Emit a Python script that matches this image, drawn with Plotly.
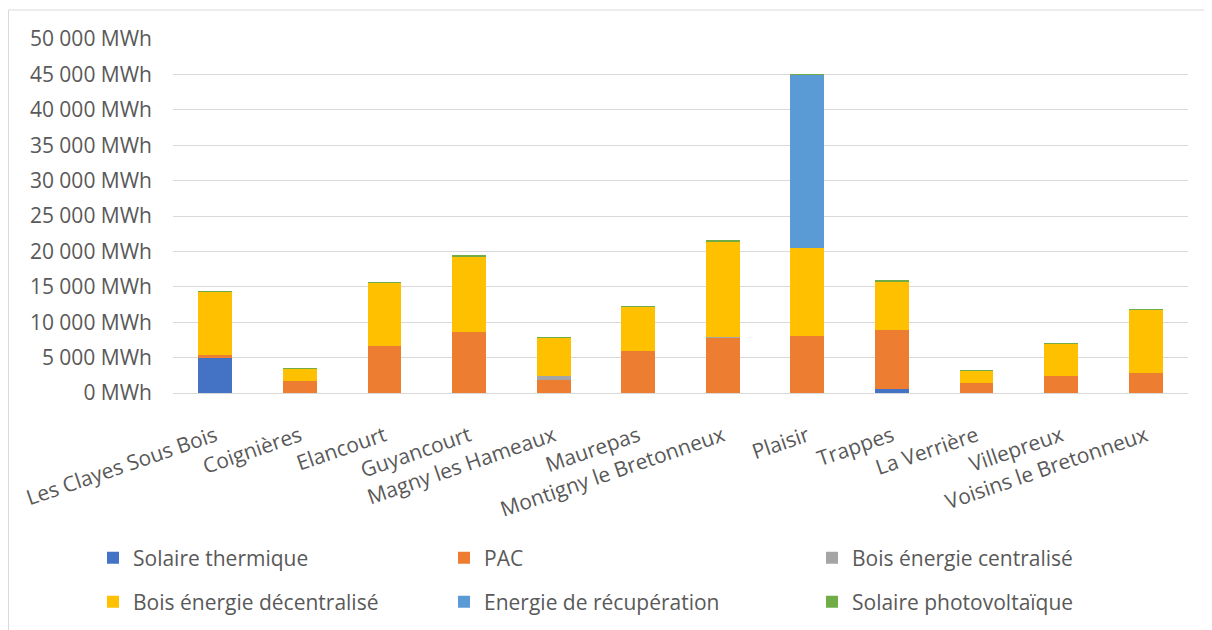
import plotly.graph_objects as go

categories = ["Les Clayes Sous Bois", "Coignières", "Elancourt", "Guyancourt",
              "Magny les Hameaux", "Maurepas", "Montigny le Bretonneux", "Plaisir",
              "Trappes", "La Verrière", "Villepreux", "Voisins le Bretonneux"]

solaire_thermique = [5000, 0, 0, 0, 0, 0, 0, 0, 500, 0, 0, 0]
pac = [400, 1650, 6600, 8650, 1800, 5870, 7850, 8040, 8400, 1420, 2360, 2800]
bois_centralise = [0, 0, 0, 0, 600, 0, 100, 0, 0, 0, 0, 0]
bois_decentralise = [8900, 1750, 8950, 10560, 5400, 6300, 13450, 12500, 6870, 1780, 4640, 9000]
energie_recuperation = [0, 0, 0, 0, 0, 0, 0, 24400, 0, 0, 0, 0]
solaire_pv = [100, 50, 60, 230, 50, 80, 100, 100, 50, 30, 50, 60]

series_names = ["Solaire thermique", "PAC", "Bois énergie centralisé",
                "Bois énergie décentralisé", "Energie de récupération", "Solaire photovoltaïque"]
series_values = [solaire_thermique, pac, bois_centralise, bois_decentralise,
                 energie_recuperation, solaire_pv]
series_colors = ["#4472C4", "#ED7D31", "#A5A5A5", "#FFC000", "#5B9BD5", "#70AD47"]

tick_vals = [0, 5000, 10000, 15000, 20000, 25000, 30000, 35000, 40000, 45000, 50000]
tick_text = ["0 MWh", "5 000 MWh", "10 000 MWh", "15 000 MWh", "20 000 MWh", "25 000 MWh",
             "30 000 MWh", "35 000 MWh", "40 000 MWh", "45 000 MWh", "50 000 MWh"]

# The page body has an 8px default margin: the figure starts at page (8, 8).
OFF = 8
W, H = 1212 - OFF, 630 - OFF
# plot area in page pixels: x 173..1188, y 39..393
L, R, T, B = 173 - OFF, 1212 - 1188, 39 - OFF, 630 - 393
pw, ph = W - L - R, H - T - B

def px_x(x):  # page pixel -> paper fraction
    return (x - OFF - L) / pw

def px_y(y):
    return (H - B - (y - OFF)) / ph

FONT = "Open Sans"
TXT = "#595959"

fig = go.Figure()
legend_names = ["legend", "legend2", "legend3", "legend4", "legend5", "legend6"]
for name, vals, col, lg in zip(series_names, series_values, series_colors, legend_names):
    fig.add_trace(go.Bar(x=categories, y=vals, name=name, marker_color=col,
                         marker_line_width=0, legend=lg))

# legend entries: positions in page pixels
leg_x = [93, 444, 812]
leg_y = [558, 602]
legend_layout = {}
for i, lg in enumerate(legend_names):
    r, c = divmod(i, 3)
    legend_layout[lg] = dict(x=px_x(leg_x[c]), y=px_y(leg_y[r]), xanchor="left", yanchor="middle",
                             xref="paper", yref="paper", orientation="h",
                             font=dict(family=FONT, size=21, color=TXT),
                             bgcolor="rgba(0,0,0,0)", borderwidth=0)

fig.update_layout(
    width=W, height=H,
    margin=dict(l=L, r=R, t=T, b=B, autoexpand=False),
    barmode="stack", bargap=0.6,
    plot_bgcolor="white", paper_bgcolor="white",
    font=dict(family=FONT, size=21, color=TXT),
    showlegend=True,
    xaxis=dict(tickangle=-19, tickfont=dict(family=FONT, size=21, color=TXT),
               showgrid=False, showline=False, ticks="", automargin=False,
               ticklabelstandoff=26),
    yaxis=dict(range=[0, 50000], tickvals=tick_vals, ticktext=tick_text,
               tickfont=dict(family=FONT, size=21, color=TXT),
               showgrid=True, gridcolor="#D9D9D9", gridwidth=1.3,
               zeroline=True, zerolinecolor="#D9D9D9", zerolinewidth=1.3,
               ticklabelstandoff=20, ticks="", automargin=False),
    **legend_layout,
)

fig.add_shape(type="rect", xref="paper", yref="paper",
              x0=px_x(8.5), x1=px_x(1240), y0=px_y(660), y1=px_y(10),
              line=dict(color="#D9D9D9", width=1), fillcolor="rgba(0,0,0,0)", layer="below")

fig.write_html("out.html")
